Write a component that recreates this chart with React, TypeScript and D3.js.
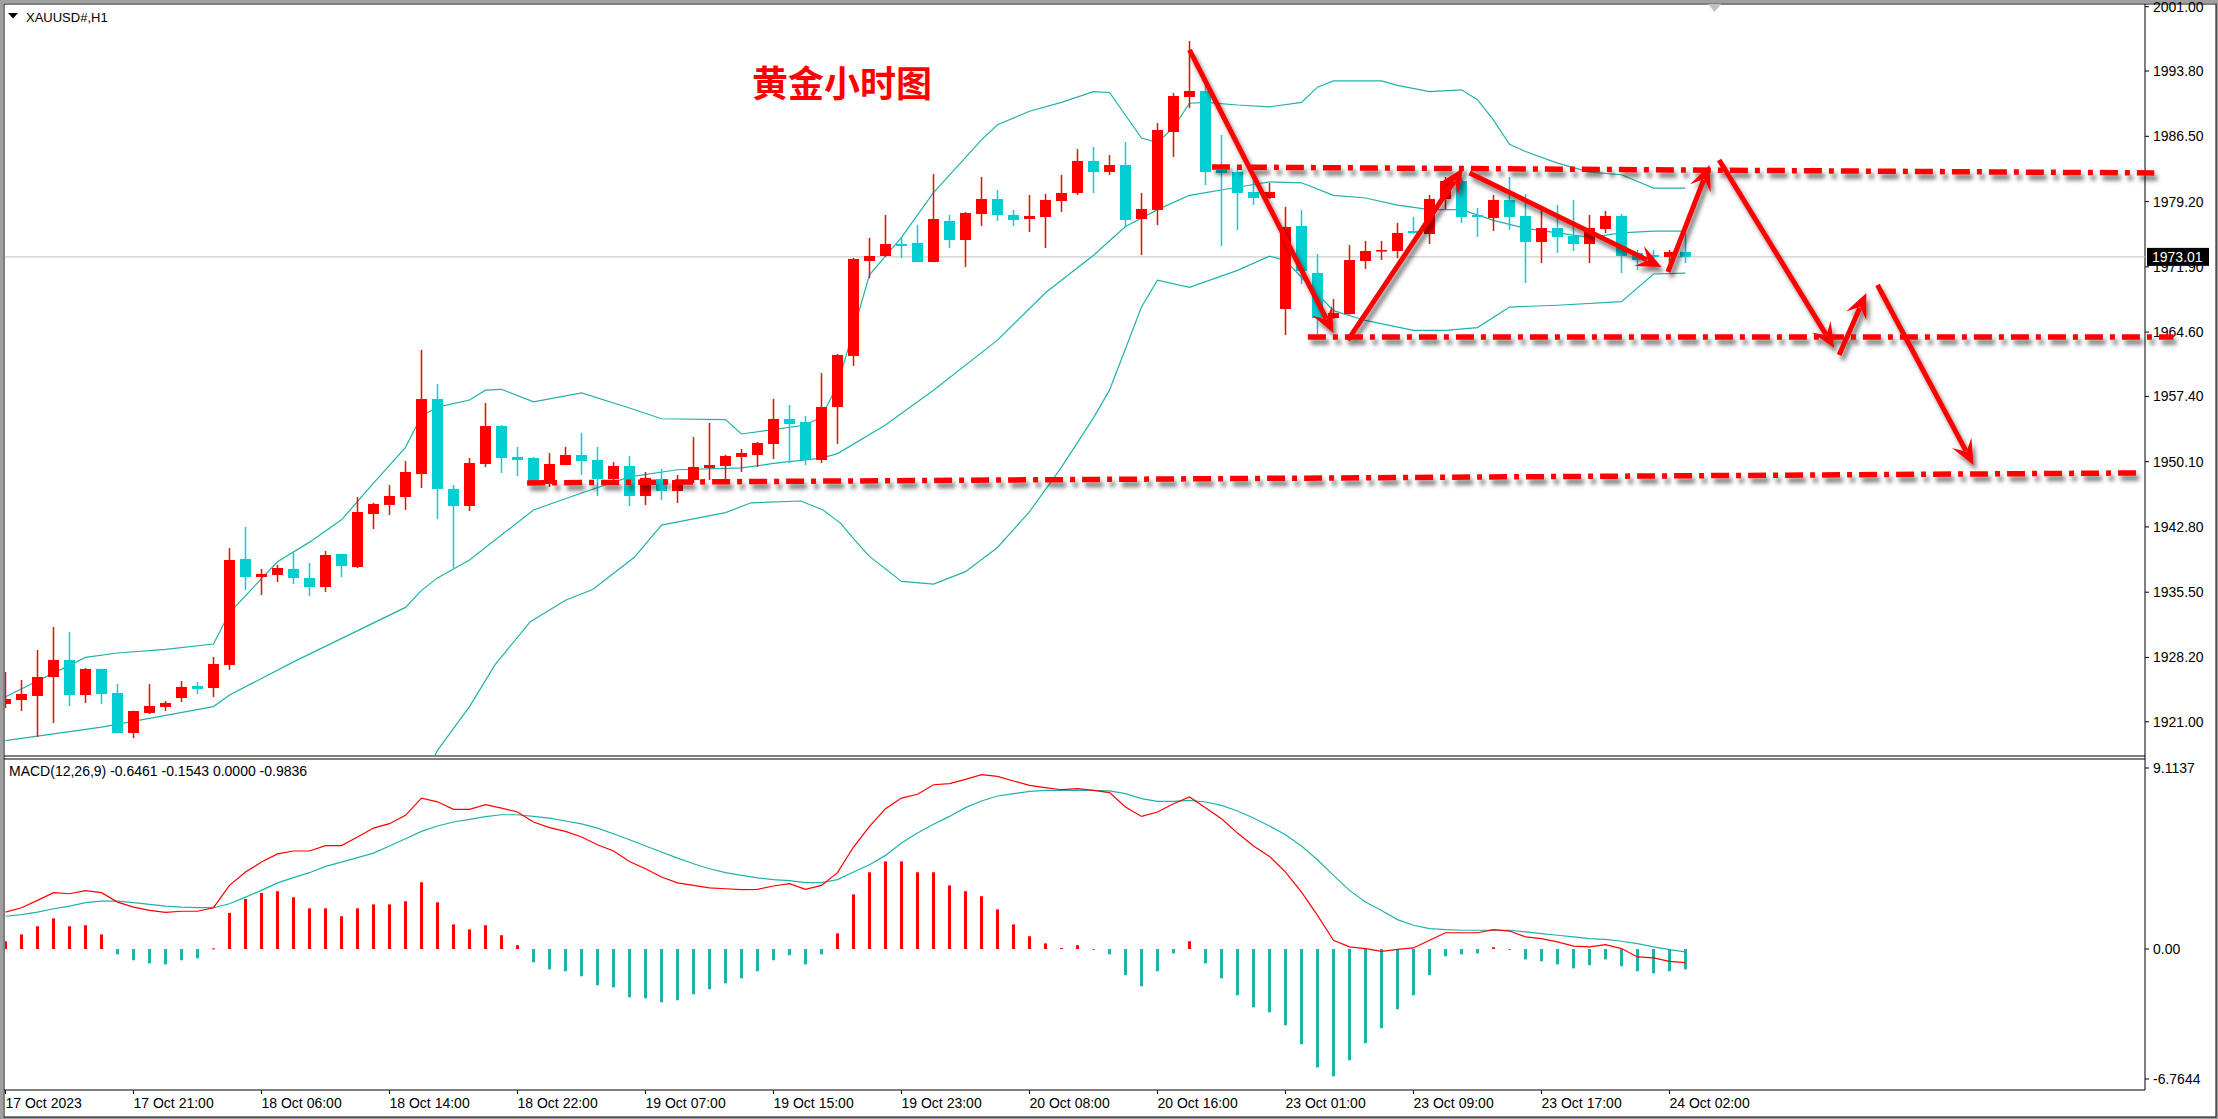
import * as d3 from "d3";
import React from "react";

// canvas / panel geometry
const W = 2218;
const H = 1119;
const LEFT = 4;
const AXIS_X = 2145;
const MAIN_TOP = 4;
const MAIN_BOTTOM = 756;
const MACD_TOP = 759;
const MACD_BOTTOM = 1090;

// XAUUSD H1 candles, 17 Oct 13:00 .. 24 Oct 03:00
const opens = [
  1922.99, 1923.44, 1923.89, 1926.01, 1927.92, 1924.0, 1926.91, 1924.22, 1919.75, 1921.99,
  1922.66, 1923.66, 1925.01, 1924.78, 1927.36, 1939.22, 1937.2, 1937.43, 1938.1, 1937.09,
  1936.08, 1939.77, 1938.32, 1944.25, 1945.26, 1946.15, 1948.72, 1957.11, 1947.05, 1945.14,
  1949.84, 1954.09, 1950.63, 1950.51, 1947.61, 1949.73, 1950.85, 1950.29, 1948.17, 1949.62,
  1946.26, 1948.17, 1946.82, 1948.05, 1949.39, 1949.62, 1950.63, 1950.85, 1952.08, 1954.88,
  1954.54, 1950.29, 1956.22, 1961.93, 1972.55, 1973.11, 1974.45, 1974.57, 1972.44, 1977.03,
  1974.9, 1977.81, 1979.49, 1977.7, 1977.25, 1977.47, 1979.26, 1980.16, 1983.74, 1982.51,
  1983.29, 1977.25, 1978.26, 1986.98, 1990.9, 1991.57, 1982.73, 1982.51, 1980.27, 1979.6,
  1967.18, 1976.47, 1971.21, 1966.17, 1966.62, 1972.55, 1973.67, 1973.67, 1975.91, 1975.57,
  1979.49, 1981.5, 1977.7, 1977.36, 1979.38, 1977.59, 1974.68, 1976.24, 1975.35, 1974.45,
  1976.13, 1977.59, 1973.45, 1973.22, 1973.0, 1973.56,
];
const highs = [
  1926.57, 1925.68, 1929.03, 1931.61, 1931.05, 1927.02, 1926.95, 1925.23, 1922.25, 1925.23,
  1923.33, 1925.57, 1925.45, 1928.25, 1940.45, 1942.79, 1938.1, 1938.54, 1939.89, 1938.77,
  1940.11, 1939.8, 1946.15, 1945.48, 1947.49, 1950.18, 1962.6, 1958.79, 1947.49, 1950.51,
  1956.67, 1954.2, 1951.74, 1950.63, 1951.07, 1951.74, 1953.31, 1951.74, 1950.06, 1950.74,
  1948.95, 1949.28, 1948.61, 1952.86, 1954.43, 1950.85, 1951.52, 1952.3, 1957.11, 1956.44,
  1955.21, 1960.02, 1962.15, 1972.9, 1975.13, 1977.7, 1975.24, 1976.58, 1982.28, 1977.7,
  1978.03, 1981.95, 1980.49, 1978.26, 1979.94, 1980.05, 1982.17, 1985.08, 1985.31, 1984.41,
  1985.87, 1980.16, 1987.99, 1991.35, 1997.16, 1992.8, 1986.65, 1982.73, 1981.61, 1981.28,
  1978.59, 1978.26, 1973.34, 1968.3, 1974.34, 1974.79, 1974.79, 1976.8, 1977.47, 1979.94,
  1981.95, 1981.95, 1978.48, 1979.94, 1981.95, 1980.05, 1978.26, 1978.82, 1979.38, 1977.7,
  1978.15, 1977.81, 1973.78, 1973.78, 1973.78, 1975.68,
];
const lows = [
  1922.55, 1922.21, 1919.3, 1920.87, 1922.77, 1923.11, 1922.99, 1919.7, 1919.19, 1921.88,
  1922.21, 1923.22, 1924.11, 1923.78, 1926.8, 1935.75, 1935.19, 1936.64, 1936.42, 1935.08,
  1935.52, 1937.2, 1938.2, 1942.57, 1944.14, 1944.7, 1947.16, 1943.69, 1938.21, 1944.58,
  1949.51, 1948.84, 1948.5, 1947.55, 1947.27, 1949.7, 1948.61, 1946.26, 1947.61, 1945.14,
  1945.26, 1945.82, 1945.48, 1947.72, 1948.05, 1947.83, 1948.95, 1949.51, 1950.4, 1949.95,
  1949.73, 1949.95, 1952.08, 1960.81, 1970.65, 1973.0, 1972.89, 1972.4, 1972.4, 1974.01,
  1971.88, 1976.47, 1977.03, 1976.47, 1975.8, 1974.01, 1978.03, 1979.94, 1980.16, 1982.17,
  1976.36, 1973.22, 1976.58, 1984.19, 1989.67, 1981.05, 1974.23, 1976.02, 1978.82, 1979.49,
  1964.27, 1969.98, 1964.39, 1966.1, 1966.55, 1971.66, 1972.66, 1972.89, 1975.6, 1974.45,
  1978.37, 1976.8, 1975.24, 1975.91, 1976.02, 1970.09, 1972.33, 1973.45, 1973.67, 1972.33,
  1975.68, 1971.21, 1971.55, 1972.66, 1972.33, 1972.33,
];
const closes = [
  1923.55, 1924.11, 1926.01, 1927.92, 1924.0, 1926.91, 1924.11, 1919.75, 1922.21, 1922.77,
  1923.11, 1924.9, 1924.67, 1927.47, 1939.1, 1937.2, 1937.54, 1938.21, 1937.09, 1936.08,
  1939.66, 1938.43, 1944.47, 1945.37, 1946.26, 1948.95, 1957.11, 1947.05, 1945.14, 1949.95,
  1954.09, 1950.51, 1950.29, 1947.61, 1949.84, 1950.85, 1950.18, 1948.17, 1949.62, 1946.26,
  1948.28, 1946.82, 1948.05, 1949.51, 1949.73, 1950.74, 1951.07, 1952.19, 1954.88, 1954.32,
  1950.29, 1956.22, 1962.04, 1972.78, 1973.11, 1974.45, 1974.23, 1972.44, 1977.25, 1974.9,
  1977.92, 1979.49, 1977.7, 1977.14, 1977.59, 1979.38, 1980.16, 1983.74, 1982.51, 1983.29,
  1977.14, 1978.37, 1987.21, 1991.01, 1991.57, 1982.51, 1982.4, 1980.16, 1979.6, 1980.27,
  1976.36, 1971.43, 1966.17, 1966.73, 1972.66, 1973.67, 1973.78, 1975.68, 1975.68, 1979.49,
  1981.5, 1977.47, 1977.47, 1979.38, 1977.47, 1974.68, 1976.24, 1975.24, 1974.45, 1976.24,
  1977.59, 1973.11, 1972.66, 1973.0, 1973.56, 1973.01,
];

// Bollinger bands: [bar index, price]
const bbUpper: [number, number][] = [
  [0, 1923.8], [5, 1928.2], [7, 1928.7], [10, 1929.1], [13, 1929.7], [14, 1933.2], [17, 1938.9],
  [19, 1941.1], [21, 1943.6], [23, 1947.7], [25, 1951.7], [26, 1955.2], [27, 1956.2], [29, 1957.0],
  [30, 1958.1], [31, 1958.2], [33, 1956.8], [36, 1957.8], [39, 1956.1], [41, 1954.9], [45, 1954.8],
  [46, 1953.2], [50, 1954.2], [51, 1955.1], [52, 1958.7], [53, 1964.8], [54, 1971.0], [56, 1975.2],
  [58, 1980.2], [61, 1986.1], [62, 1987.8], [64, 1989.3], [66, 1990.3], [68, 1991.5], [69, 1991.4],
  [71, 1986.3], [72, 1985.8], [73, 1987.5], [74, 1990.2], [75, 1990.3], [77, 1990.0], [79, 1989.8],
  [81, 1990.3], [82, 1992.0], [83, 1992.7], [86, 1992.7], [87, 1992.2], [89, 1991.5], [91, 1991.7],
  [92, 1990.6], [93, 1988.3], [94, 1985.6], [95, 1984.8], [97, 1983.5], [99, 1982.5], [101, 1982.2],
  [103, 1980.7], [105, 1980.7],
];
const bbMiddle: [number, number][] = [
  [0, 1918.9], [6, 1920.4], [13, 1922.7], [14, 1924.0], [18, 1927.7], [25, 1933.8], [26, 1935.7],
  [27, 1937.1], [29, 1939.1], [33, 1944.7], [36, 1946.6], [39, 1948.4], [42, 1949.2], [46, 1949.4],
  [48, 1949.9], [51, 1950.5], [52, 1951.0], [55, 1954.2], [58, 1958.1], [62, 1963.7], [65, 1969.0],
  [68, 1973.2], [70, 1976.4], [72, 1978.3], [74, 1979.9], [77, 1980.8], [79, 1981.4], [81, 1981.3],
  [83, 1979.9], [85, 1979.6], [87, 1978.8], [89, 1978.3], [91, 1978.3], [93, 1977.1], [95, 1976.2],
  [99, 1975.2], [101, 1975.7], [103, 1975.9], [105, 1975.9],
];
const bbLower: [number, number][] = [
  [24, 1908.0], [27, 1917.8], [29, 1922.7], [30.6, 1927.4], [32.8, 1932.2], [35, 1934.6],
  [36.7, 1935.8], [39.3, 1939.4], [41, 1943.0], [45, 1944.4], [46.6, 1945.5], [49.7, 1945.7],
  [51.1, 1944.7], [52.2, 1943.2], [53, 1941.5], [54, 1939.5], [56, 1936.7], [58, 1936.4],
  [60, 1937.8], [62, 1940.5], [64, 1944.5], [66, 1949.5], [68, 1955.0], [69, 1958.1], [71, 1967.4],
  [72, 1970.4], [74, 1969.6], [77, 1971.5], [79, 1973.1], [80, 1972.6], [83, 1967.0], [85, 1965.9],
  [88, 1964.8], [90, 1964.8], [92, 1965.1], [94, 1967.4], [97, 1967.6], [101, 1968.0], [103, 1971.1],
  [105, 1971.2],
];

// MACD(12,26,9)
const macdDif = [
  1.77, 1.98, 2.33, 2.7, 2.65, 2.8, 2.7, 2.25, 2.01, 1.85, 1.76, 1.81, 1.81, 1.98, 3.05, 3.69, 4.17,
  4.56, 4.7, 4.7, 4.96, 4.96, 5.37, 5.8, 6.01, 6.41, 7.24, 7.06, 6.7, 6.7, 6.92, 6.76, 6.57, 6.09,
  5.82, 5.64, 5.37, 5.0, 4.7, 4.2, 3.85, 3.45, 3.17, 3.05, 2.93, 2.89, 2.85, 2.86, 3.02, 3.13, 2.86,
  3.05, 3.66, 4.89, 5.88, 6.73, 7.24, 7.42, 7.88, 7.93, 8.14, 8.36, 8.28, 8.06, 7.85, 7.74, 7.64,
  7.69, 7.61, 7.5, 6.81, 6.36, 6.57, 6.97, 7.29, 6.78, 6.25, 5.56, 4.94, 4.44, 3.69, 2.73, 1.61,
  0.42, 0.1, 0.02, -0.11, -0.02, 0.05, 0.42, 0.78, 0.78, 0.78, 0.93, 0.86, 0.58, 0.5, 0.34, 0.14,
  0.1, 0.21, 0.02, -0.38, -0.43, -0.59, -0.65,
];
const macdDea = [
  1.57, 1.65, 1.77, 1.93, 2.06, 2.22, 2.3, 2.3, 2.22, 2.14, 2.06, 2.01, 1.98, 1.98, 2.17, 2.49, 2.81,
  3.17, 3.42, 3.66, 3.96, 4.17, 4.38, 4.6, 4.94, 5.29, 5.64, 5.9, 6.09, 6.22, 6.35, 6.44, 6.44, 6.36,
  6.28, 6.14, 6.0, 5.8, 5.53, 5.24, 4.94, 4.65, 4.36, 4.09, 3.85, 3.66, 3.53, 3.41, 3.33, 3.28, 3.18,
  3.18, 3.33, 3.69, 4.04, 4.49, 5.08, 5.56, 5.98, 6.36, 6.78, 7.1, 7.34, 7.45, 7.56, 7.61, 7.61,
  7.61, 7.61, 7.58, 7.45, 7.21, 7.08, 7.08, 7.13, 7.05, 6.89, 6.62, 6.28, 5.9, 5.48, 4.94, 4.28,
  3.53, 2.81, 2.25, 1.85, 1.41, 1.14, 0.98, 0.93, 0.9, 0.9, 0.9, 0.9, 0.82, 0.74, 0.66, 0.58, 0.5,
  0.46, 0.37, 0.26, 0.1, -0.03, -0.14,
];
const macdHist = [
  0.37, 0.7, 1.09, 1.47, 1.09, 1.14, 0.7, -0.26, -0.54, -0.69, -0.74, -0.54, -0.45, 0.03, 1.73, 2.4,
  2.69, 2.77, 2.48, 1.95, 1.95, 1.57, 1.95, 2.14, 2.14, 2.29, 3.2, 2.24, 1.18, 0.94, 1.14, 0.66,
  0.18, -0.64, -0.98, -1.07, -1.31, -1.74, -1.84, -2.32, -2.37, -2.56, -2.46, -2.17, -1.93, -1.65,
  -1.41, -1.07, -0.54, -0.3, -0.74, -0.26, 0.75, 2.62, 3.68, 4.2, 4.2, 3.68, 3.68, 3.05, 2.77, 2.53,
  1.9, 1.18, 0.61, 0.27, 0.05, 0.18, -0.05, -0.26, -1.26, -1.79, -1.07, -0.21, 0.37, -0.69, -1.41,
  -2.22, -2.8, -3.04, -3.66, -4.57, -5.68, -6.11, -5.34, -4.52, -3.8, -2.89, -2.22, -1.26, -0.35,
  -0.26, -0.21, 0.08, -0.05, -0.5, -0.59, -0.74, -0.93, -0.78, -0.5, -0.83, -1.07, -1.17, -1.07,
  -0.98,
];

const timeTickIndex = [0, 8, 16, 24, 32, 40, 48, 56, 64, 72, 80, 88, 96, 104];
const timeTickLabels = [
  "17 Oct 2023", "17 Oct 21:00", "18 Oct 06:00", "18 Oct 14:00", "18 Oct 22:00", "19 Oct 07:00",
  "19 Oct 15:00", "19 Oct 23:00", "20 Oct 08:00", "20 Oct 16:00", "23 Oct 01:00", "23 Oct 09:00",
  "23 Oct 17:00", "24 Oct 02:00",
];
const priceTicks = [
  2001.0, 1993.8, 1986.5, 1979.2, 1971.9, 1964.6, 1957.4, 1950.1, 1942.8, 1935.5, 1928.2, 1921.0,
];
const lastPrice = 1973.01;
const macdMax = 9.1137;
const macdMin = -6.7644;
const macdTitle = "MACD(12,26,9) -0.6461 -0.1543 0.0000 -0.9836";

// hand-drawn annotations in (bar index, price)
const levelLines: [number, number, number, number][] = [
  [75.4, 1983.07, 134.3, 1982.4],
  [81.4, 1964.05, 135.5, 1964.05],
  [32.6, 1947.72, 133.4, 1948.84],
];
const arrows: [number, number, number, number][] = [
  [74.0, 1996.16, 83.0, 1964.5],
  [83.9, 1963.71, 91.1, 1982.96],
  [91.5, 1982.4, 103.5, 1971.88],
  [103.9, 1971.32, 106.5, 1983.29],
  [107.1, 1983.85, 114.3, 1962.82],
  [114.6, 1962.04, 116.3, 1968.97],
  [117.0, 1969.87, 123.0, 1949.73],
];

const RED = "#ff0000";
const CYAN = "#00ced1";
const TEAL = "#20b2aa";
const FONT = "'Liberation Sans', Arial, sans-serif";

const x = d3.scaleLinear().domain([0, 1]).range([5.5, 21.5]);
const y = d3.scaleLinear().domain([2001, 1921]).range([6.7, 721.8]);
const my = d3.scaleLinear().domain([macdMax, macdMin]).range([MACD_TOP, MACD_BOTTOM]);

const App = () => {
  const bandLine = d3
    .line<[number, number]>()
    .x((d) => x(d[0]))
    .y((d) => y(d[1]));
  const macdLine = d3
    .line<number>()
    .x((_, i) => x(i))
    .y((d) => my(d));

  const arrowShapes = arrows.map(([i0, p0, i1, p1]) => {
    const x0 = x(i0), y0 = y(p0), x1 = x(i1), y1 = y(p1);
    const len = Math.hypot(x1 - x0, y1 - y0);
    const ux = (x1 - x0) / len, uy = (y1 - y0) / len;
    const nx = -uy, ny = ux;
    const head = [
      [x1, y1],
      [x1 - ux * 25 + nx * 11, y1 - uy * 25 + ny * 11],
      [x1 - ux * 15, y1 - uy * 15],
      [x1 - ux * 25 - nx * 11, y1 - uy * 25 - ny * 11],
    ];
    return { x0, y0, sx: x1 - ux * 16, sy: y1 - uy * 16, head: head.map((p) => p.join(",")).join(" ") };
  });

  return (
    <svg
      width={W}
      height={H}
      style={{ position: "fixed", left: 0, top: 0, display: "block", background: "#a0a0a0" }}
    >
      <defs>
        <clipPath id="mainClip">
          <rect x={LEFT + 1} y={MAIN_TOP + 1} width={AXIS_X - LEFT - 1} height={MAIN_BOTTOM - MAIN_TOP - 1} />
        </clipPath>
        <clipPath id="macdClip">
          <rect x={LEFT + 1} y={MACD_TOP + 1} width={AXIS_X - LEFT - 1} height={MACD_BOTTOM - MACD_TOP - 1} />
        </clipPath>
        <filter id="shadow" x="-20%" y="-20%" width="140%" height="160%">
          <feDropShadow dx="3" dy="5" stdDeviation="2.2" floodColor="#000" floodOpacity="0.5" />
        </filter>
      </defs>

      <rect x={3} y={3} width={W - 5} height={H - 5} fill="#fff" />
      <rect x={LEFT} y={MAIN_TOP} width={W - LEFT - 2} height={MACD_BOTTOM + 27 - MAIN_TOP} fill="none" stroke="#000" strokeWidth={1} />
      <line x1={LEFT} x2={AXIS_X} y1={MAIN_BOTTOM} y2={MAIN_BOTTOM} stroke="#000" />
      <line x1={LEFT} x2={AXIS_X} y1={MACD_TOP} y2={MACD_TOP} stroke="#000" />
      <line x1={LEFT} x2={AXIS_X} y1={MACD_BOTTOM} y2={MACD_BOTTOM} stroke="#000" />
      <line x1={AXIS_X} x2={AXIS_X} y1={MAIN_TOP} y2={MACD_BOTTOM} stroke="#000" />

      {/* header */}
      <polygon points="8,13 18,13 13,18.5" fill="#000" />
      <text x={26} y={21.5} fontFamily={FONT} fontSize={13} fill="#000">
        XAUUSD#,H1
      </text>
      <polygon points="1708,4 1721,4 1714.5,12" fill="#c0c0c0" />

      {/* main panel */}
      <g clipPath="url(#mainClip)">
        <line x1={LEFT} x2={AXIS_X} y1={y(lastPrice)} y2={y(lastPrice)} stroke="#c0c0c0" strokeWidth={1} />
        {[bbUpper, bbMiddle, bbLower].map((b, k) => (
          <path key={k} d={bandLine(b) ?? ""} fill="none" stroke={TEAL} strokeWidth={1.2} />
        ))}
        {closes.map((c, i) => {
          const o = opens[i];
          const col = c >= o ? RED : CYAN;
          const top = y(Math.max(o, c));
          const h = Math.max(1.5, Math.abs(y(o) - y(c)));
          return (
            <g key={i}>
              <line x1={x(i)} x2={x(i)} y1={y(highs[i])} y2={y(lows[i])} stroke={col} strokeWidth={1.5} />
              <rect x={x(i) - 5.5} y={top} width={11} height={h} fill={col} />
            </g>
          );
        })}
      </g>

      <text x={752} y={81} fontFamily="'Noto Sans CJK SC', sans-serif" fontWeight={700} fontSize={36} fill={RED} dominantBaseline="central">
        黄金小时图
      </text>

      {/* price axis */}
      {priceTicks.map((p) => (
        <g key={p}>
          <line x1={AXIS_X} x2={AXIS_X + 4} y1={y(p)} y2={y(p)} stroke="#000" />
          <text x={AXIS_X + 8} y={y(p)} fontFamily={FONT} fontSize={14} fill="#000" dominantBaseline="central">
            {p.toFixed(2)}
          </text>
        </g>
      ))}
      <rect x={AXIS_X + 2} y={y(lastPrice) - 9} width={62} height={18} fill="#000" />
      <text x={AXIS_X + 7} y={y(lastPrice)} fontFamily={FONT} fontSize={14} fill="#fff" dominantBaseline="central">
        {lastPrice.toFixed(2)}
      </text>

      {/* annotations */}
      <g filter="url(#shadow)">
        {levelLines.map(([i0, p0, i1, p1], k) => (
          <line key={k} x1={x(i0)} y1={y(p0)} x2={x(i1)} y2={y(p1)} stroke={RED} strokeWidth={5.5} strokeDasharray="18 7 5 7" />
        ))}
        {arrowShapes.map((a, k) => (
          <g key={k}>
            <line x1={a.x0} y1={a.y0} x2={a.sx} y2={a.sy} stroke={RED} strokeWidth={5} />
            <polygon points={a.head} fill={RED} />
          </g>
        ))}
      </g>

      {/* MACD panel */}
      <text x={9} y={776} fontFamily={FONT} fontSize={14} fill="#000">
        {macdTitle}
      </text>
      <g clipPath="url(#macdClip)">
        {macdHist.map((v, i) => (
          <rect
            key={i}
            x={x(i) - 1.5}
            y={Math.min(my(v), my(0))}
            width={3}
            height={Math.max(1, Math.abs(my(v) - my(0)))}
            fill={v >= 0 ? RED : TEAL}
          />
        ))}
        <path d={macdLine(macdDea) ?? ""} fill="none" stroke={TEAL} strokeWidth={1.2} />
        <path d={macdLine(macdDif) ?? ""} fill="none" stroke={RED} strokeWidth={1.2} />
      </g>
      {[
        { v: macdMax, t: macdMax.toFixed(4), dy: 9 },
        { v: 0, t: "0.00", dy: 0 },
        { v: macdMin, t: macdMin.toFixed(4), dy: -11 },
      ].map((d) => (
        <g key={d.t}>
          <line x1={AXIS_X} x2={AXIS_X + 4} y1={my(d.v) + d.dy} y2={my(d.v) + d.dy} stroke="#000" />
          <text x={AXIS_X + 8} y={my(d.v) + d.dy} fontFamily={FONT} fontSize={14} fill="#000" dominantBaseline="central">
            {d.t}
          </text>
        </g>
      ))}

      {/* time axis */}
      {timeTickIndex.map((idx, k) => (
        <g key={idx}>
          <line x1={x(idx)} x2={x(idx)} y1={MACD_BOTTOM} y2={MACD_BOTTOM + 4} stroke="#000" />
          <text x={x(idx)} y={1108} fontFamily={FONT} fontSize={14} fill="#000">
            {timeTickLabels[k]}
          </text>
        </g>
      ))}
    </svg>
  );
};

export default App;
